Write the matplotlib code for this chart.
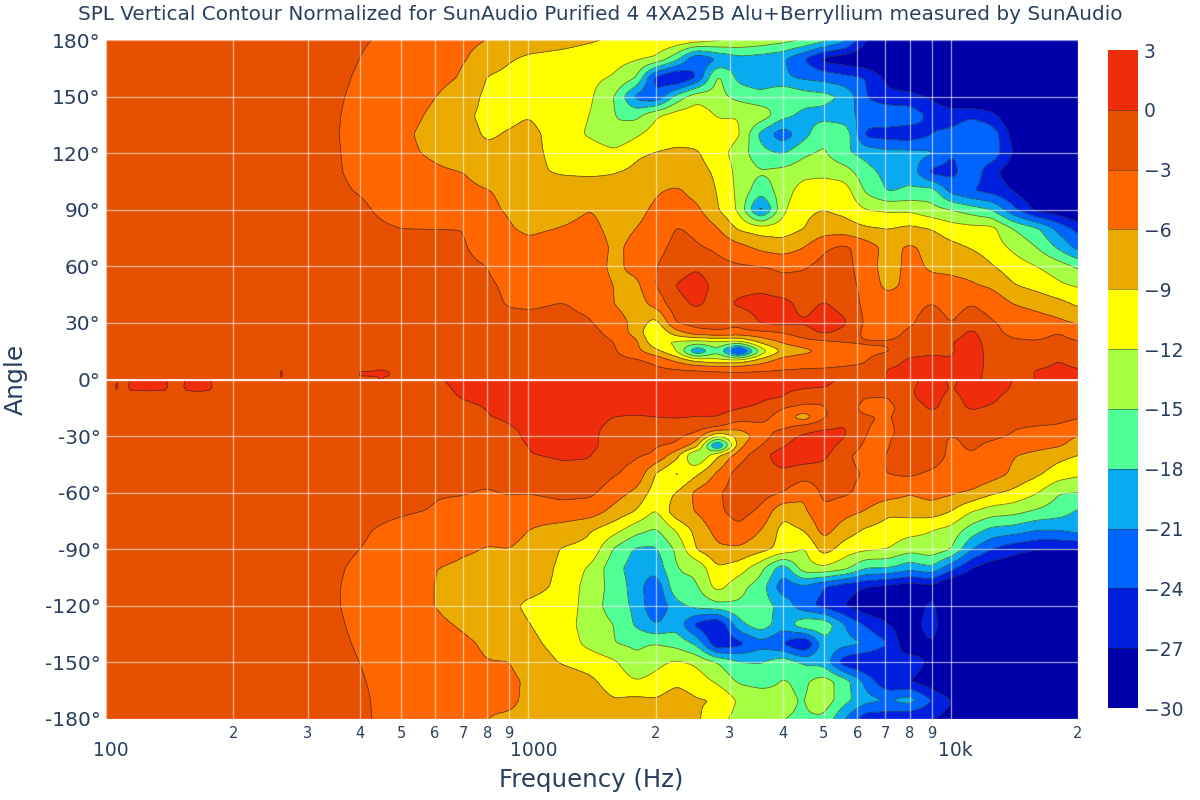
import numpy as np
import matplotlib
matplotlib.use("Agg")
import matplotlib.pyplot as plt
from matplotlib.transforms import ScaledTranslation

plt.rcParams['font.family'] = ['DejaVu Sans']

freq = [100,200,300,400,500,600,700,800,900,1000,1200,1400,1600,1800,2000,2240,2500,2800,3150,3550,
        4000,4500,5000,5600,6300,7100,8000,9000,10000,11200,12500,14000,16000,18000,20000]
angles = [180,170,160,150,140,130,120,110,100,90,80,70,60,50,40,30,25,20,15,10,5,0.1,
          -0.1,-5,-10,-15,-20,-25,-30,-35,-40,-50,-60,-70,-80,-90,-100,-110,-120,-130,-140,-150,-160,-170,-180]

p180 = [-2,-2,-2.5,-2.8,-3.5,-5,-5.5,-6,-7,-7.5,-8,-8.7,-9.3,-9.6,-9.2,-9.8,-10.5,-11.5,-12.3,-13,-14,-15,-17,-20,-27,-29,-31,-31,-31,-31,-31,-31,-31,-31,-31]
p170 = [-2,-2,-2.3,-3,-4.3,-5,-5.8,-7,-8.7,-9.5,-10,-10.5,-11,-11.7,-12.5,-17,-24,-21,-19,-19.5,-20.5,-24,-28,-29,-30,-31,-31,-31,-31,-31,-31,-31,-31,-31,-31]
p160 = [-1.8,-2,-2.3,-3.15,-4.2,-5,-6.3,-9.2,-10,-10.5,-10.8,-11.3,-12.3,-14.9,-25,-28,-24,-14,-19,-20,-20.5,-21.5,-22,-23,-24,-28,-30,-31,-31,-31,-31,-31,-31,-31,-31]
p150 = [-1.8,-2,-2.4,-3.25,-4.7,-5.9,-7.7,-9.6,-10.3,-10.8,-11,-11.5,-15,-22,-24,-17,-13,-14,-16,-17,-14.8,-16.5,-17,-18.5,-24,-26,-26,-27.5,-29,-31,-31,-31,-31,-31,-31]
p140 = [-1.8,-2,-2.4,-3.35,-5,-6.5,-8.6,-9.5,-9.6,-9.1,-10.5,-12,-15,-16,-12.4,-10.5,-10,-12.3,-12.1,-13,-17,-19,-19,-20,-22,-21.5,-22,-25,-26,-24.5,-26,-30,-31,-31,-31]
p130 = [-1.8,-2,-2.4,-3.4,-5.4,-7,-8.2,-9.3,-8.8,-8.2,-10.3,-12.5,-14.8,-12.5,-10.5,-10,-10,-10.5,-11.5,-19,-23,-19,-15.5,-15.5,-25,-25.5,-26,-24,-23,-21,-22,-28,-31,-31,-31]
p120 = [-1.8,-2,-2.4,-3.35,-5.3,-6.5,-7.8,-8.5,-8.3,-8.5,-9.6,-10,-11.2,-9.3,-8.9,-8.5,-8.7,-10.5,-13.5,-17,-18.3,-15.5,-14.5,-17.5,-19,-20,-20,-20.5,-24,-23,-22,-27,-31,-31,-31]
p110 = [-1.8,-2,-2.4,-3.3,-4.5,-5.5,-6,-7.2,-8,-8.5,-9.3,-9.5,-9.1,-8.5,-8.3,-8,-8,-9.5,-13,-14.8,-14,-13,-13,-13.5,-17,-19,-19,-25,-25,-22,-26,-29,-31,-31,-31]
p100 = [-1.8,-2,-2.4,-3.1,-4,-4.8,-5.3,-5.9,-6.5,-7,-7.5,-7.5,-8,-7.5,-6.3,-5.5,-7,-9.1,-12.8,-17,-13.5,-10.5,-9.8,-10.5,-15.5,-18.3,-17.5,-16.5,-22,-24,-25,-27,-30,-31,-31]
p090 = [-1.8,-2,-2.3,-2.7,-3.8,-4.5,-5,-5.5,-6.3,-6.8,-6.9,-6,-7,-6.8,-5.5,-4.8,-5.3,-8.7,-12.5,-23,-12.5,-9.5,-9,-9.8,-12,-12.5,-12.5,-14,-15,-16.5,-18,-23,-28,-29,-31]
p080 = [-1.8,-2,-2.2,-2.5,-3,-3,-3,-4.3,-5.8,-6.5,-5.9,-5.3,-6.8,-6,-4.9,-2.8,-3.5,-5.8,-9.5,-10.5,-10.5,-9,-7.5,-7.6,-8.6,-9.1,-8.3,-9.1,-10.5,-11,-11,-15,-17.5,-22,-25]
p070 = [-1.8,-2,-2.1,-2.2,-2.3,-2.5,-2.8,-3.9,-4.5,-5.3,-4.5,-4.5,-6.5,-5.3,-3.8,-2.3,-2.7,-3.5,-5,-6.7,-7.5,-6,-3.4,-2.4,-4.5,-7,-5.5,-7,-8.2,-9.2,-10.5,-12.5,-15,-18.5,-22]
p060 = [-1.8,-1.9,-2,-2,-2.2,-2.3,-2.5,-3,-4.5,-4.7,-4.5,-4.8,-6.6,-5.2,-3.1,-1.7,-0.3,-2.2,-2.7,-3,-3.6,-3.3,-2,-2,-4.5,-7.5,-5,-6.5,-6.6,-7,-8.8,-10.5,-12,-13.5,-15.5]
p050 = [-1.7,-1.8,-1.9,-2,-2.1,-2.2,-2.3,-2.6,-3.5,-4.3,-4.2,-4.8,-6.1,-6.8,-3,0.2,1.5,-1,-1,-0.8,-2,-1.9,-1.7,-1.7,-4,-7,-5,-5,-5.3,-5.7,-6.5,-8.8,-10,-11.5,-12.4]
p040 = [-1.7,-1.7,-1.8,-1.9,-2,-2,-2.1,-2.3,-3.2,-3.3,-2.9,-3.5,-6.1,-7.5,-5,-1,0.5,-1.2,0.5,1.2,1,-1,0.3,-1,-3.8,-4.3,-3.8,-2.9,-3.8,-3,-3.8,-6,-7,-8,-9.5]
p030 = [-1.6,-1.6,-1.7,-1.7,-1.8,-1.8,-1.9,-2,-2.1,-2.3,-2.5,-2.8,-4.5,-7,-10.5,-2.7,-2,-2.6,-2.7,0.3,0.8,0.2,1.5,0.5,-3.6,-4.3,-3.4,-1.7,-3.1,-1.8,-2.8,-3.6,-4.5,-5.3,-6.3]
p025 = [-1.5,-1.5,-1.6,-1.6,-1.7,-1.7,-1.7,-1.8,-1.9,-2,-2.1,-2.3,-3.8,-7.4,-12.5,-7,-3.8,-3,-3.5,-3.5,-2.9,-1.2,0.6,-0.8,-3.8,-4,-2.5,-1.8,-2.2,0.8,-2.5,-3.5,-4,-3,-4.5]
p020 = [-1.4,-1.4,-1.5,-1.5,-1.5,-1.6,-1.6,-1.7,-1.8,-1.9,-2,-2.1,-3,-5.3,-11.8,-12.5,-13,-12.5,-12.5,-8,-5.5,-4,-3.5,-3,-2.8,-2.8,-2.4,-1.7,-0.2,1.5,-1.7,-2.7,-2.8,-2.2,-2.8]
p015 = [-1.3,-1.3,-1.4,-1.4,-1.4,-1.5,-1.5,-1.6,-1.7,-1.8,-1.9,-2,-2.7,-5.2,-8,-12,-22,-15.5,-28,-14,-8.5,-7,-5.5,-3.7,-3.4,-3.2,-1.5,-0.5,-0.5,2,-1.5,-2.2,-2.3,-1.9,-2.3]
p010 = [-1.2,-1.2,-1.3,-1.3,-1.3,-1.4,-1.4,-1.5,-1.6,-1.7,-1.8,-1.9,-2.2,-2.5,-3.6,-6.5,-9.5,-11,-10.5,-7.5,-4.5,-3.5,-3.4,-3.3,-3.1,-1.8,0.8,0.8,0.2,1.5,-1,-1.8,-1.9,0.1,-1.5]
p005 = [-1.1,-1.1,-1.2,-1.2,-1.2,-1.3,-1.3,-1.4,-1.4,-1.5,-1.6,-1.7,-1.9,-2.1,-2.4,-2.6,-2.8,-3,-3.1,-3,-2.9,-2.9,-2.9,-2.8,-2.7,0.3,1,0.8,0.2,1.5,-1.2,-1.2,0.2,0.8,0.3]
p000 = [-1,-1,-1.1,-1.1,-1.1,-1.1,-1.2,-1.2,-1.3,-1.3,-1.4,-1.5,-1.6,-1.8,-2,-2.2,-2.3,-2.4,-2.5,-2.4,-2.3,-2.3,-2.3,-2.2,-2,0.3,1,1,0.8,0.8,-1,-0.8,0.1,0.8,0.5]
m000 = [-1,-1,-1.1,-1.1,-1,-0.5,1,1.5,1.5,1.5,1.5,1.5,1.5,1.5,1.5,1.5,1.5,1,0.5,0.7,0.5,0.1,0.3,-0.2,-1.5,-1.5,-1,1.5,-0.5,1,1,0,-1,0.1,-1]
m005 = [-1,-1,-1.1,-1.1,-1.1,-0.8,0.5,1,1,1,1,1,1,1,1,1,1,0.8,0.5,0.5,0.3,0.1,0,-0.5,-1.2,-1.5,-0.3,1.2,-0.2,1,1,-0.2,-1,-0.5,-1]
m010 = [-1,-1,-1.1,-1.1,-1.1,-0.9,0.1,0.7,1,1,1,1,1,1,1,1,1,0.9,0.5,0.3,0,-1.5,-2.7,-1.5,-3.2,-3.2,-0.3,0.9,-0.8,0.8,0.5,-1,-1.2,-1.5,-1.8]
m015 = [-1,-1,-1.1,-1.1,-1.1,-1,-0.7,0.1,0.8,1,1,1,1,1,1,1,1,0.8,0.2,-0.3,-2.9,-4,-3.1,-1.8,-3.8,-3.8,-1.5,0.5,-1,0.3,-0.3,-1.3,-1.5,-1.8,-2.2]
m020 = [-1,-1,-1.1,-1.1,-1.1,-1.1,-1,-0.1,0.3,0.8,1,0.8,-0.1,-0.3,0,0.2,-0.1,0,-1.5,-2,-4.5,-8,-3.1,-2.4,-2.7,-3.3,-1.2,-1.2,-1.3,-0.8,-1.2,-1.9,-1.9,-2.2,-2.8]
m025 = [-1,-1,-1.1,-1.1,-1.2,-1.2,-1.1,-0.8,-0.1,0.5,0.7,0.5,-0.5,-1.3,-1.3,-1.4,-1.5,-2.7,-5,-3.6,-3.7,-1.8,-0.8,0.3,-2.9,-3.6,-1.5,-1.6,-2,-1.2,-1.8,-2.8,-3.1,-3.3,-4.2]
m030 = [-1,-1,-1.2,-1.2,-1.3,-1.4,-1.4,-1.3,-0.9,0.6,0.8,0.8,-1.5,-1.8,-1.9,-2.4,-4,-12,-8,-4.5,-1.2,0.5,1.5,0.3,-3.2,-3.2,-2.5,-2.2,-3.1,-2.5,-2.5,-3.2,-4,-4.3,-6.2]
m035 = [-1,-1.1,-1.2,-1.2,-1.4,-1.5,-1.5,-1.5,-1.1,0.1,0.8,0.9,-1.8,-2.2,-2.8,-3.3,-7.5,-24,-7,-3,-0.3,1.5,1.5,-1,-3.6,-3.3,-0.6,-1.5,-3.5,-2.6,-3.5,-4.3,-5,-5.6,-7.5]
m040 = [-1.1,-1.1,-1.2,-1.3,-1.5,-1.6,-1.7,-1.7,-1.2,-0.1,0.4,0.2,-2.5,-2.7,-3.2,-7.8,-16,-9.5,-4.5,-0.9,1.5,1.5,0.8,-2.5,-4,-2.9,-0.5,-0.8,-3.9,-3.1,-4.2,-5.8,-6.8,-8,-9]
m050 = [-1.3,-1.4,-1.6,-1.7,-2,-2.2,-2.3,-2.3,-2.1,-2,-0.9,-0.8,-2.8,-3.7,-9.2,-12.8,-9.5,-5.5,-1.5,-1,-0.5,-1.6,-1.5,-2.4,-3.2,-3,-2.5,-3.6,-4.8,-3,-4.5,-6.5,-8.5,-10.5,-11.5]
m060 = [-1.5,-1.7,-1.9,-2.1,-2.4,-2.9,-2.9,-3.2,-2.8,-2.9,-2.4,-2.4,-4.7,-6.7,-10.5,-9,-5.2,-3.4,-1.5,-1.8,-3,-5.8,-2.2,-2.5,-3.9,-4.5,-5.8,-4.8,-5.5,-6.5,-8.5,-9.6,-11.8,-14.9,-15]
m070 = [-1.8,-2,-2.3,-2.5,-2.8,-3.1,-3.5,-4,-4.3,-4.5,-3.9,-4.5,-7,-9.2,-12.5,-7,-5.9,-3.5,-2,-3.5,-8.5,-6.5,-3.4,-5,-6.2,-8.5,-8,-7.5,-9,-12,-13.5,-14,-15.5,-16.5,-18.5]
m080 = [-2,-2.3,-2.5,-2.8,-3.5,-4.2,-4.6,-5,-5.2,-6,-7.5,-8.8,-11,-14,-15.5,-11.8,-8,-5,-3.5,-6,-10,-9,-4.8,-7.5,-9.5,-10.3,-11,-12,-13,-16.5,-19,-19.5,-21,-21,-20]
m090 = [-2.1,-2.3,-2.5,-3,-3.7,-4.3,-5.5,-6.2,-6,-6.7,-9.2,-9.7,-15.5,-18.5,-18.5,-14.5,-8.8,-6.5,-6.5,-8,-10,-12.5,-7.5,-10.5,-11.5,-12,-14,-13,-14.8,-21,-24,-26,-27,-27,-27]
m100 = [-2,-2.2,-2.5,-3.2,-4.6,-5.9,-6.7,-7,-7.3,-7.5,-9.5,-12.5,-17,-19.5,-20,-15,-14.5,-9.2,-10.5,-14,-20,-13,-12.5,-14,-18,-18,-20,-18.5,-23,-27,-29,-29,-30,-31,-31]
m110 = [-2,-2.2,-2.5,-3.3,-4.7,-6,-7.7,-8,-8,-8.2,-9.5,-13.5,-16,-19.5,-23.5,-15.5,-15.5,-10.8,-14,-16.5,-23,-21.5,-24,-26,-27,-28,-29,-28,-31,-31,-31,-31,-31,-31,-31]
m120 = [-2,-2.2,-2.5,-3.3,-4.7,-6,-7.8,-8.2,-8.4,-9.5,-10,-13.5,-16.5,-18.7,-24,-19,-17,-16,-15.5,-16.5,-19,-23,-25,-27,-29,-29,-30,-26,-31,-31,-31,-31,-31,-31,-31]
m130 = [-2,-2.2,-2.5,-3.2,-4.4,-5.2,-6.4,-7.5,-8,-8.9,-10.5,-13.5,-15,-18.5,-21,-19,-25,-27.5,-19,-16,-20,-15.5,-15.5,-21,-24.5,-27,-29,-25,-31,-31,-31,-31,-31,-31,-31]
m140 = [-2,-2.2,-2.5,-3.1,-4,-4.8,-5.4,-6.5,-7.5,-8.3,-10,-13,-15,-15.5,-15,-16,-18.5,-27,-25,-22,-24,-28,-19,-20,-21,-24,-30,-27,-31,-31,-31,-31,-31,-31,-31]
m150 = [-2,-2.2,-2.5,-3,-3.8,-4.5,-5.2,-5.9,-5.9,-7.5,-9.2,-10,-11.5,-14.5,-12.8,-11.5,-12.5,-15,-17.8,-18.2,-16,-18.5,-19,-26,-27.5,-27,-25,-28,-31,-31,-31,-31,-31,-31,-31]
m160 = [-2,-2.2,-2.4,-2.9,-3.6,-4.4,-4.9,-5.8,-5.3,-6.5,-7.5,-8.5,-10.2,-11.9,-11,-9.5,-10.5,-12.5,-15.5,-16,-14.8,-15.5,-13.5,-16.5,-22,-27,-27,-29,-31,-31,-31,-31,-31,-31,-31]
m170 = [-2,-2.2,-2.4,-2.8,-3.6,-4.4,-4.9,-5.5,-5.3,-6.7,-7.2,-7.8,-8.9,-8.3,-8.8,-7.5,-8.8,-9,-12.5,-13.5,-14.5,-15.2,-13,-17,-20,-21,-19.5,-24,-27,-30,-31,-31,-31,-31,-31]
m180 = [-2,-2.2,-2.4,-2.8,-3.5,-4.5,-5,-6,-6.5,-7,-7,-7.5,-8.8,-8.8,-8.8,-8,-8.5,-11,-13,-13.5,-15,-15.2,-15.5,-21,-26,-26,-27,-27,-28,-28,-30,-31,-31,-31,-31]

# fine detail of the small peaks around 0 degrees below 500 Hz
near_freq = [100,104,106,108,112,114,126,138,143,150,155,165,176,182,255,260,265,438,448,458,500]
near_angle = [-9,-7,-4,-0.1,0.1,2,4,7]
near_m9  = [-1]*21
near_m7  = [-1,-1,-0.6,-1,-1,-0.5,-0.4,-0.5,-1,-1,-0.5,-0.2,-0.5,-1,-1,-1,-1,-1,-1,-1,-1]
near_m4  = [-1,-1,0.5,-1,-1,0.6,0.8,0.6,-1,-1,0.7,0.8,0.6,-1,-1,-1,-1,-1,-1,-1,-1]
near_m0  = [-1,-1,-0.3,-1,-1,0.3,0.5,0.3,-1,-1,0.4,0.5,0.3,-1,-1,-1,-1,-1,-1,-1,-1]
near_p0  = [-1,-1,-1,-1,-1,-1,-1,-1,-1,-1,-1,-1,-1,-1,-1,-0.4,-1,-1,0.3,-1,-1]
near_p2  = [-1,-1,-1,-1,-1,-1,-1,-1,-1,-1,-1,-1,-1,-1,-1,0.4,-1,0.3,0.6,0.3,-1]
near_p4  = [-1,-1,-1,-1,-1,-1,-1,-1,-1,-1,-1,-1,-1,-1,-1,0.3,-1,0.3,0.6,0.3,-1]
near_p7  = [-1]*21

levels = [-30,-27,-24,-21,-18,-15,-12,-9,-6,-3,0,3]
band_colors = ['#0000AA','#0020E0','#0064FF','#0AAAF0','#50FF96','#A6FF42','#FFFF00','#EBAA00','#FF6600','#E75000','#F02D0A']
cbar_ticks = [-30,-27,-24,-21,-18,-15,-12,-9,-6,-3,0,3]
angle_ticks = [-180,-150,-120,-90,-60,-30,0,30,60,90,120,150,180]

top = [p180,p170,p160,p150,p140,p130,p120,p110,p100,p090,p080,p070,p060,p050,p040,p030,p025,p020,p015,p010,p005,p000]
bottom = [m000,m005,m010,m015,m020,m025,m030,m035,m040,m050,m060,m070,m080,m090,m100,m110,m120,m130,m140,m150,m160,m170,m180]


def blur1d(a, sigma, axis):
    r = int(3 * sigma)
    k = np.exp(-0.5 * (np.arange(-r, r + 1) / sigma) ** 2)
    k /= k.sum()
    def f(v):
        return np.convolve(np.pad(v, r, mode='edge'), k, mode='valid')
    return np.apply_along_axis(f, axis, a)


def fine_half(rows, row_angles, fine_angles, lx):
    """Draw the table on a fine log-frequency grid, so that bands follow the log axis and have round edges."""
    lf = np.log10(freq)
    a = np.array(rows, dtype=float)
    a = np.array([np.interp(lx, lf, r) for r in a])
    order = np.argsort(row_angles)
    ra = np.array(row_angles)[order]
    a = a[order]
    b = np.array([np.interp(fine_angles, ra, a[:, j]) for j in range(a.shape[1])]).T
    b = blur1d(b, 2.2, 1)
    b = blur1d(b, 2.0, 0)
    return b


lx = np.linspace(2, np.log10(20000), 600)
ya_top = np.linspace(0.1, 180, 361)
ya_bot = np.linspace(-180, -0.1, 361)
Z_top = fine_half(top, angles[:22], ya_top, lx)
Z_bot = fine_half(bottom, angles[22:], ya_bot, lx)
Y = np.concatenate([ya_bot, ya_top])
Z = np.clip(np.vstack([Z_bot, Z_top]), -29.95, 2.95)
X = 10 ** lx
Zn = np.array([near_m9,near_m7,near_m4,near_m0,near_p0,near_p2,near_p4,near_p7], dtype=float)

TXT = '#2a3f5f'
fig = plt.figure(figsize=(12, 8), dpi=100)
ax = fig.add_axes([106/1200, 81/800, 972/1200, 679/800])
line_c = (0.15, 0.15, 0.15, 0.65)
cs = ax.contourf(X, Y, Z, levels=levels, colors=band_colors, zorder=1)
cl = ax.contour(X, Y, Z, levels=levels, colors=[line_c], linewidths=0.6, linestyles='solid', zorder=1.2)
ax.contourf(near_freq, near_angle, Zn, levels=levels, colors=band_colors, zorder=1.3)
ax.contour(near_freq, near_angle, Zn, levels=levels, colors=[line_c], linewidths=0.6, linestyles='solid', zorder=1.4)

ax.set_xscale('log')
ax.set_xlim(100, 20000)
ax.set_ylim(-180, 180)
for s in ax.spines.values():
    s.set_visible(False)

major = [100, 1000, 10000]
minor = [200,300,400,500,600,700,800,900,2000,3000,4000,5000,6000,7000,8000,9000,20000]
ax.set_xticks(major)
ax.set_xticklabels(['100','1000','10k'])
ax.set_xticks(minor, minor=True)
ax.set_xticklabels(['2','3','4','5','6','7','8','9','2','3','4','5','6','7','8','9','2'], minor=True)
ax.tick_params(axis='x', which='major', length=0, pad=15.5, labelsize=13.5, labelcolor=TXT)
ax.tick_params(axis='x', which='minor', length=0, pad=5, labelsize=10.5, labelcolor=TXT)
off = ScaledTranslation(5/100, 0, fig.dpi_scale_trans)
for lab in ax.get_xticklabels():
    lab.set_transform(lab.get_transform() + off)
ax.set_yticks(angle_ticks)
ax.set_yticklabels([f'{a}°' for a in angle_ticks])
ax.tick_params(axis='y', length=0, pad=4, labelsize=14.5, labelcolor=TXT)
ax.set_axisbelow(False)
ax.grid(True, which='major', color='white', alpha=0.55, linewidth=1, zorder=3)
ax.grid(True, which='minor', axis='x', color='white', alpha=0.55, linewidth=1, zorder=3)
ax.axhline(0, color='white', alpha=0.85, linewidth=1.5, zorder=3.1)

fig.text(600/1200, 1-15/800, 'SPL Vertical Contour Normalized for SunAudio Purified 4 4XA25B Alu+Berryllium measured by SunAudio',
         ha='center', va='center', fontsize=14.45, color=TXT)
fig.text(591/1200, 1-780/800, 'Frequency (Hz)', ha='center', va='center', fontsize=17.6, color=TXT)
fig.text(16/1200, 1-379/800, 'Angle', ha='center', va='center', rotation=90, fontsize=18, color=TXT)

cax = fig.add_axes([1108/1200, 1-708/800, 30/1200, 658/800])
cb = fig.colorbar(cs, cax=cax, ticks=cbar_ticks, drawedges=True)
cb.outline.set_visible(False)
cb.dividers.set_color((0.15, 0.15, 0.15, 0.55))
cb.dividers.set_linewidth(0.6)
cb.ax.tick_params(length=0, pad=4, labelsize=13.5, labelcolor=TXT)

fig.savefig('out.png', dpi=100)
